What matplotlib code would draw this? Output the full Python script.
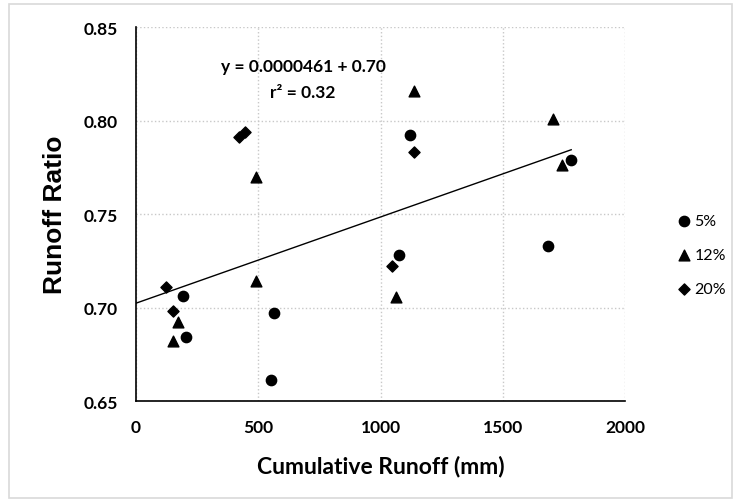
import matplotlib
matplotlib.use('Agg')
import matplotlib.pyplot as plt
import numpy as np

# data
x_5 = [191, 206, 565, 553, 1076, 1120, 1686, 1780]
y_5 = [0.706, 0.684, 0.697, 0.661, 0.728, 0.7925, 0.733, 0.779]

x_12 = [150, 172, 490, 490, 1063, 1136, 1707, 1742]
y_12 = [0.682, 0.6925, 0.714, 0.770, 0.7057, 0.816, 0.801, 0.776]

x_20 = [123, 150, 420, 446, 1047, 1136]
y_20 = [0.711, 0.698, 0.7914, 0.7937, 0.722, 0.7834]

slope = 0.0000461
intercept = 0.7023

cal = 'Lato'

fig = plt.figure(figsize=(7.4, 5.02), dpi=100)
ax = fig.add_axes([136 / 740, 1 - 402 / 502, 489 / 740, 374 / 502])

ax.scatter(x_5, y_5, marker='o', s=55, color='black', label='5%', zorder=3)
ax.scatter(x_12, y_12, marker='^', s=60, color='black', label='12%', zorder=3)
ax.scatter(x_20, y_20, marker='D', s=32, color='black', label='20%', zorder=3)

# trend line
xs = np.array([0, max(x_5 + x_12 + x_20)])
ax.plot(xs, slope * xs + intercept, color='black', lw=1, zorder=2)

ax.set_xlim(0, 2000)
ax.set_ylim(0.65, 0.85)
ax.set_xticks([0, 500, 1000, 1500, 2000])
ax.set_yticks([0.65, 0.70, 0.75, 0.80, 0.85])
ax.set_yticklabels(['0.65', '0.70', '0.75', '0.80', '0.85'])
ax.grid(True, color='#c8c8c8', linestyle=':', lw=1)
ax.set_axisbelow(True)
ax.spines['top'].set_visible(False)
ax.spines['right'].set_visible(False)
ax.spines['left'].set_linewidth(1.2)
ax.spines['bottom'].set_linewidth(1.2)
ax.tick_params(length=0, pad=13)
for t in ax.get_xticklabels() + ax.get_yticklabels():
    t.set_family(cal)
    t.set_fontweight('bold')
    t.set_fontsize(12.5)

ax.set_ylabel('Runoff Ratio', fontsize=19, fontweight='bold', family='Liberation Sans', labelpad=12)
ax.set_xlabel('Cumulative Runoff (mm)', fontsize=16.5, fontweight='bold', family=cal, labelpad=14)

ax.text(683, 0.8291, 'y = 0.0000461 + 0.70', ha='center', va='center',
        fontsize=12.5, fontweight='bold', family=cal)
ax.text(683, 0.8152, 'r² = 0.32', ha='center', va='center',
        fontsize=12.5, fontweight='bold', family=cal)

leg = ax.legend(loc='center left', bbox_to_anchor=(1.075, 0.39), frameon=False,
                handletextpad=0.15, labelspacing=1.25, handlelength=1,
                prop={'family': cal, 'size': 11.5})

fig.patches.append(plt.Rectangle((9 / 740, 3 / 502), 723 / 740, 494 / 502,
                                 transform=fig.transFigure, fill=False,
                                 edgecolor='#d9d9d9', lw=1.2))

fig.savefig('out.png', dpi=100)
